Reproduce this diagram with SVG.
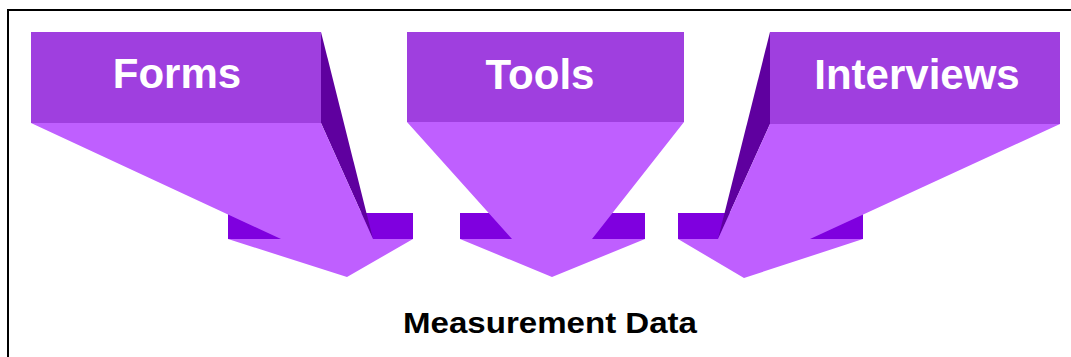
<svg xmlns="http://www.w3.org/2000/svg" width="1071" height="357" viewBox="0 0 1071 357">
<style>
.top{fill:#9F3FDF}
.body{fill:#BF5FFF}
.facet{fill:#5F009F}
.bar{fill:#7F00DF}
.lbl{font-family:"Liberation Sans",Arial,sans-serif;font-weight:bold;font-size:42px;fill:#FFFFFF;text-anchor:middle}
.cap{font-family:"Liberation Sans",Arial,sans-serif;font-weight:bold;font-size:30px;fill:#000000;text-anchor:middle}
</style>
<rect width="1071" height="357" fill="#FFFFFF"/>
<path d="M8,360 V10 H1075" fill="none" stroke="#000000" stroke-width="2"/>
<g id="forms">
<rect class="bar" x="228" y="213" width="185" height="26"/>
<polygon class="facet" points="321,32 373,239 321,123"/>
<polygon class="body" points="31,123 321,123 373,239 413,239 347,277 228,239 281,239"/>
<rect class="top" x="31" y="32" width="290" height="91"/>
<text class="lbl" x="177" y="88">Forms</text>
</g>
<g id="tools">
<rect class="bar" x="460" y="213" width="185" height="26"/>
<polygon class="body" points="407,122 684,122 592,239 645,239 552,277 460,239 512,239"/>
<rect class="top" x="407" y="32" width="277" height="90"/>
<text class="lbl" x="540" y="89">Tools</text>
</g>
<g id="interviews">
<rect class="bar" x="678" y="213" width="185" height="26"/>
<polygon class="facet" points="770,32 718,239 770,124"/>
<polygon class="body" points="770,124 1060,124 810,239 863,239 744,278 678,239 718,239"/>
<rect class="top" x="770" y="32" width="290" height="92"/>
<text class="lbl" x="917" y="89">Interviews</text>
</g>
<g id="measurement-data">
<text class="cap" x="550" y="333" textLength="294" lengthAdjust="spacingAndGlyphs">Measurement Data</text>
</g>
</svg>
